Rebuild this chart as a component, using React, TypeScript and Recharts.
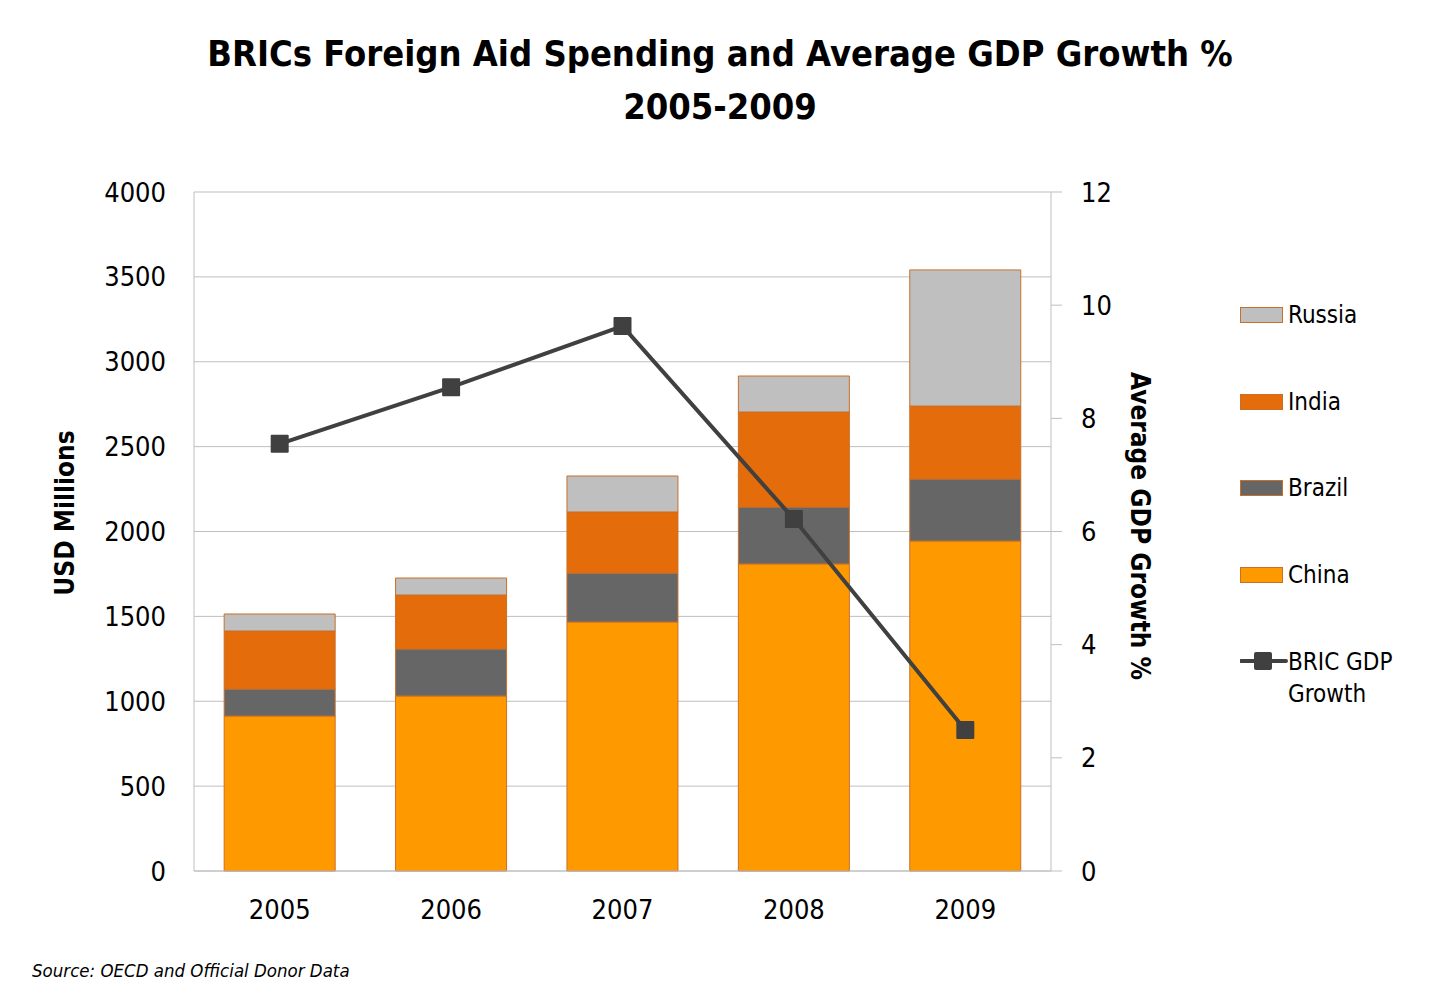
import React from 'react';
import { ComposedChart, Bar, Line, XAxis, YAxis, CartesianGrid } from 'recharts';

const years = ['2005', '2006', '2007', '2008', '2009'];
const china = [913, 1031, 1467, 1809, 1944];
const brazil = [159, 277, 288, 335, 365];
const india = [342, 318, 360, 560, 430];
const russia = [100, 100, 212, 212, 802];
const gdpGrowth = [7.55, 8.55, 9.63, 6.22, 2.49];
const leftTicks = [0, 500, 1000, 1500, 2000, 2500, 3000, 3500, 4000];
const rightTicks = [0, 2, 4, 6, 8, 10, 12];

const COLORS = { China: '#FF9900', Brazil: '#666666', India: '#E46C0A', Russia: '#BFBFBF', Line: '#404040' };
const BORDER = '#C8702A';
const FONT = '"Liberation Sans Narrow", "DejaVu Sans Condensed", "Arial Narrow", sans-serif';

const legendItems = [
  { name: 'Russia', color: COLORS.Russia },
  { name: 'India', color: COLORS.India },
  { name: 'Brazil', color: COLORS.Brazil },
  { name: 'China', color: COLORS.China },
];

const data = years.map((y, i) => ({
  year: y,
  China: china[i],
  Brazil: brazil[i],
  India: india[i],
  Russia: russia[i],
  gdp: gdpGrowth[i],
}));

const SquareDot = (props: any) => {
  const { cx, cy, index } = props;
  if (cx == null || cy == null) return null;
  return <rect key={`d${index}`} x={cx - 9} y={cy - 9} width={18} height={18} rx={1} fill={COLORS.Line} />;
};

const LegendBlock = () => (
  <div style={{ position: 'absolute', left: 1240, top: 272, width: 200, fontFamily: FONT, fontSize: 24, color: '#000' }}>
    {legendItems.map((it) => (
      <div key={it.name} style={{ display: 'flex', alignItems: 'center', height: 86.5 }}>
        <div style={{ width: 41, height: 14, background: it.color, border: `1px solid ${BORDER}`, marginRight: 5 }} />
        <span style={{ lineHeight: '30px' }}>{it.name}</span>
      </div>
    ))}
    <div style={{ display: 'flex', alignItems: 'flex-start', height: 90, marginTop: 28 }}>
      <svg width={48} height={30}>
        <line x1={1} y1={15} x2={46} y2={15} stroke={COLORS.Line} strokeWidth={4} strokeLinecap="round" />
        <rect x={14} y={6} width={18} height={18} rx={2} fill={COLORS.Line} />
      </svg>
      <span style={{ lineHeight: '32px' }}>
        BRIC GDP
        <br />
        Growth
      </span>
    </div>
  </div>
);

export default function App() {
  return (
    <div style={{ position: 'absolute', left: 0, top: 0, width: 1440, height: 1000, background: '#fff', fontFamily: FONT }}>
      <div
        style={{
          position: 'absolute',
          left: 0,
          top: 27,
          width: 1440,
          textAlign: 'center',
          fontWeight: 'bold',
          fontSize: 36,
          lineHeight: '53px',
          color: '#000',
        }}
      >
        BRICs Foreign Aid Spending and Average GDP Growth %
        <br />
        2005-2009
      </div>
      <ComposedChart
        width={1440}
        height={1000}
        data={data}
        margin={{ top: 192, right: 329, bottom: 99, left: 134 }}
        barCategoryGap="17.6%"
      >
        <CartesianGrid vertical={false} stroke="#BFBFBF" strokeWidth={1} yAxisId="left" />
        <XAxis
          dataKey="year"
          axisLine={{ stroke: '#BFBFBF', strokeWidth: 1 }}
          tickLine={false}
          tickSize={0}
          tickMargin={29}
          height={30}
          tick={{ fill: '#000', fontSize: 27, fontFamily: FONT }}
        />
        <YAxis
          yAxisId="left"
          orientation="left"
          domain={[0, 4000]}
          ticks={leftTicks}
          width={60}
          axisLine={{ stroke: '#BFBFBF', strokeWidth: 1 }}
          tickLine={false}
          tickSize={0}
          tickMargin={28}
          tick={{ fill: '#000', fontSize: 27, fontFamily: FONT }}
        />
        <YAxis
          yAxisId="right"
          orientation="right"
          domain={[0, 12]}
          ticks={rightTicks}
          width={60}
          axisLine={{ stroke: '#BFBFBF', strokeWidth: 1 }}
          tickLine={{ stroke: '#BFBFBF', strokeWidth: 1 }}
          tickSize={11}
          tickMargin={19}
          tick={{ fill: '#000', fontSize: 27, fontFamily: FONT }}
        />
        <Bar yAxisId="left" dataKey="China" stackId="a" fill={COLORS.China} stroke={BORDER} strokeWidth={1} isAnimationActive={false} />
        <Bar yAxisId="left" dataKey="Brazil" stackId="a" fill={COLORS.Brazil} stroke={BORDER} strokeWidth={1} isAnimationActive={false} />
        <Bar yAxisId="left" dataKey="India" stackId="a" fill={COLORS.India} stroke={BORDER} strokeWidth={1} isAnimationActive={false} />
        <Bar yAxisId="left" dataKey="Russia" stackId="a" fill={COLORS.Russia} stroke={BORDER} strokeWidth={1} isAnimationActive={false} />
        <Line
          yAxisId="right"
          dataKey="gdp"
          name="BRIC GDP Growth"
          stroke={COLORS.Line}
          strokeWidth={4}
          dot={<SquareDot />}
          activeDot={false}
          isAnimationActive={false}
        />
      </ComposedChart>
      <LegendBlock />
      <div
        style={{
          position: 'absolute',
          left: 65,
          top: 513,
          transform: 'translate(-50%, -50%) rotate(-90deg)',
          fontWeight: 'bold',
          fontSize: 26,
          whiteSpace: 'nowrap',
          color: '#000',
        }}
      >
        USD Millions
      </div>
      <div
        style={{
          position: 'absolute',
          left: 1140,
          top: 526,
          transform: 'translate(-50%, -50%) rotate(90deg)',
          fontWeight: 'bold',
          fontSize: 26,
          whiteSpace: 'nowrap',
          color: '#000',
        }}
      >
        Average GDP Growth %
      </div>
      <div
        style={{
          position: 'absolute',
          left: 32,
          top: 960,
          fontStyle: 'italic',
          fontSize: 18.5,
          whiteSpace: 'nowrap',
          color: '#000',
        }}
      >
        Source: OECD and Official Donor Data
      </div>
    </div>
  );
}
